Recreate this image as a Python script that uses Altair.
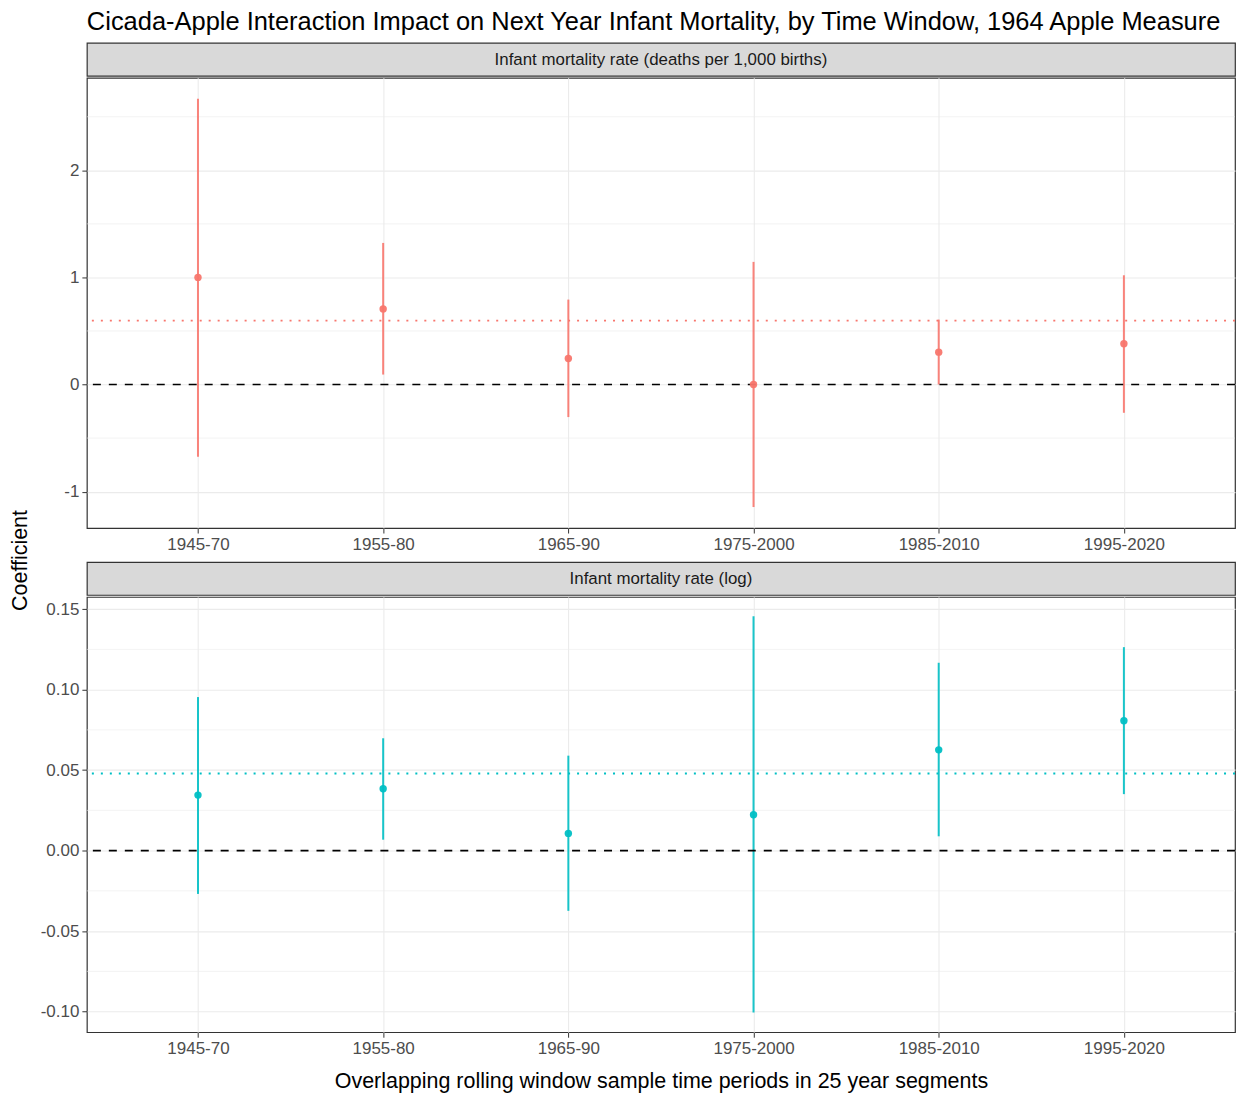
import altair as alt
import pandas as pd

# ---------------- data ----------------
windows = ["1945-70", "1955-80", "1965-90", "1975-2000", "1985-2010", "1995-2020"]

rate_est = [1.00, 0.706, 0.243, 0.00, 0.302, 0.38]
rate_lo = [-0.674, 0.093, -0.304, -1.144, 0.0, -0.264]
rate_hi = [2.668, 1.322, 0.793, 1.145, 0.606, 1.02]
rate_pooled = [0.597]

log_est = [0.0345, 0.0384, 0.0107, 0.0223, 0.0626, 0.0807]
log_lo = [-0.0269, 0.0068, -0.0374, -0.1006, 0.0089, 0.0351]
log_hi = [0.0954, 0.0698, 0.059, 0.1456, 0.1167, 0.1264]
log_pooled = [0.0479]

rate_ticks = [-1, 0, 1, 2]
rate_minor = [-0.5, 0.5, 1.5, 2.5]
rate_domain = [-1.34, 2.864]

log_ticks = [-0.10, -0.05, 0.0, 0.05, 0.10, 0.15]
log_minor = [-0.075, -0.025, 0.025, 0.075, 0.125]
log_domain = [-0.1128, 0.1576]

zero = [0]

strip_labels = ["Infant mortality rate (deaths per 1,000 births)", "Infant mortality rate (log)"]
colors = ["#F8766D", "#00BFC4"]

title_text = "Cicada-Apple Interaction Impact on Next Year Infant Mortality, by Time Window, 1964 Apple Measure"
x_title = "Overlapping rolling window sample time periods in 25 year segments"
y_title = "Coefficient"

FONT = "Liberation Sans"
W = 1150
STRIP_H = 33


def panel(est, lo, hi, pooled, color, domain, ticks, minor, fmt, height, xtitle):
    df = pd.DataFrame({"window": windows, "est": est, "lo": lo, "hi": hi})
    yscale = alt.Scale(domain=domain, nice=False, zero=False)
    xscale = alt.Scale(type="point", domain=windows, padding=0.6)
    xkw = dict(grid=True, labelAngle=0)
    if xtitle:
        xkw.update(title=xtitle, titleFontSize=21.5, titleColor="#000000",
                   titleFontWeight="normal", titleFont=FONT, titlePadding=14)
    else:
        xkw.update(title=None)
    xaxis = alt.Axis(**xkw)
    yaxis = alt.Axis(
        values=ticks, title=None, grid=True,
        labelExpr="replace(format(datum.value, '%s'), '\u2212', '-')" % fmt,
    )

    minor_layer = alt.Chart(pd.DataFrame({"v": minor})).mark_rule(
        color="#EBEBEB", strokeWidth=0.6
    ).encode(y=alt.Y("v:Q", scale=yscale, title=None))

    zero_layer = alt.Chart(pd.DataFrame({"v": zero})).mark_rule(
        color="#000000", strokeWidth=1.6, strokeDash=[8, 8]
    ).encode(y=alt.Y("v:Q", scale=yscale, title=None))

    pooled_layer = alt.Chart(pd.DataFrame({"v": pooled})).mark_rule(
        color=color, strokeWidth=1.8, strokeDash=[2, 7]
    ).encode(y=alt.Y("v:Q", scale=yscale, title=None))

    bars = alt.Chart(df).mark_rule(color=color, strokeWidth=2, opacity=0.9).encode(
        x=alt.X("window:N", scale=xscale, axis=xaxis, sort=windows),
        y=alt.Y("lo:Q", scale=yscale, axis=yaxis),
        y2="hi:Q",
    )
    pts = alt.Chart(df).mark_circle(color=color, size=55, opacity=0.95).encode(
        x=alt.X("window:N", scale=xscale, sort=windows),
        y=alt.Y("est:Q", scale=yscale, title=None),
    )
    return alt.layer(minor_layer, bars, zero_layer, pooled_layer, pts).properties(
        width=W, height=height,
        view=alt.ViewBackground(fill="white", stroke="#333333", strokeWidth=1.2),
    )


def strip(label, title=None):
    c = alt.Chart(pd.DataFrame({"t": [label]})).mark_text(
        font=FONT, fontSize=16.9, color="#1A1A1A", baseline="middle", align="center"
    ).encode(text="t:N", x=alt.value(W / 2), y=alt.value(STRIP_H / 2 + 1))
    props = dict(
        width=W, height=STRIP_H,
        view=alt.ViewBackground(fill="#D9D9D9", stroke="#333333", strokeWidth=1.2),
    )
    if title:
        props["title"] = alt.TitleParams(
            title, anchor="start", frame="group", fontSize=25.5, font=FONT,
            fontWeight="normal", color="#000000", offset=7,
        )
    return c.properties(**props)


top = alt.vconcat(
    strip(strip_labels[0], title_text),
    panel(rate_est, rate_lo, rate_hi, rate_pooled, colors[0], rate_domain,
          rate_ticks, rate_minor, "d", 451, None),
    spacing=0,
)
bottom = alt.vconcat(
    strip(strip_labels[1]),
    panel(log_est, log_lo, log_hi, log_pooled, colors[1], log_domain,
          log_ticks, log_minor, ".2f", 436, x_title),
    spacing=0,
)
body = alt.vconcat(top, bottom, spacing=8)

ylab = alt.Chart(pd.DataFrame({"t": [y_title]})).mark_text(
    font=FONT, fontSize=21.5, color="#000000", angle=270, baseline="middle", align="center"
).encode(text="t:N", x=alt.value(13), y=alt.value(518.5)).properties(
    width=26, height=1000, view=alt.ViewBackground(stroke=None, fill=None)
)

chart = alt.hconcat(ylab, body, spacing=5).configure(
    background="white", padding={"left": 0, "top": 0, "right": 0, "bottom": 0}
).configure_axis(
    domain=False,
    tickColor="#333333", tickSize=5, tickWidth=1,
    labelColor="#4D4D4D", labelFontSize=17, labelFont=FONT, labelPadding=3,
    gridColor="#EBEBEB", gridWidth=1.1,
)

chart.save("out.html", embed_options={"renderer": "svg", "actions": False})
